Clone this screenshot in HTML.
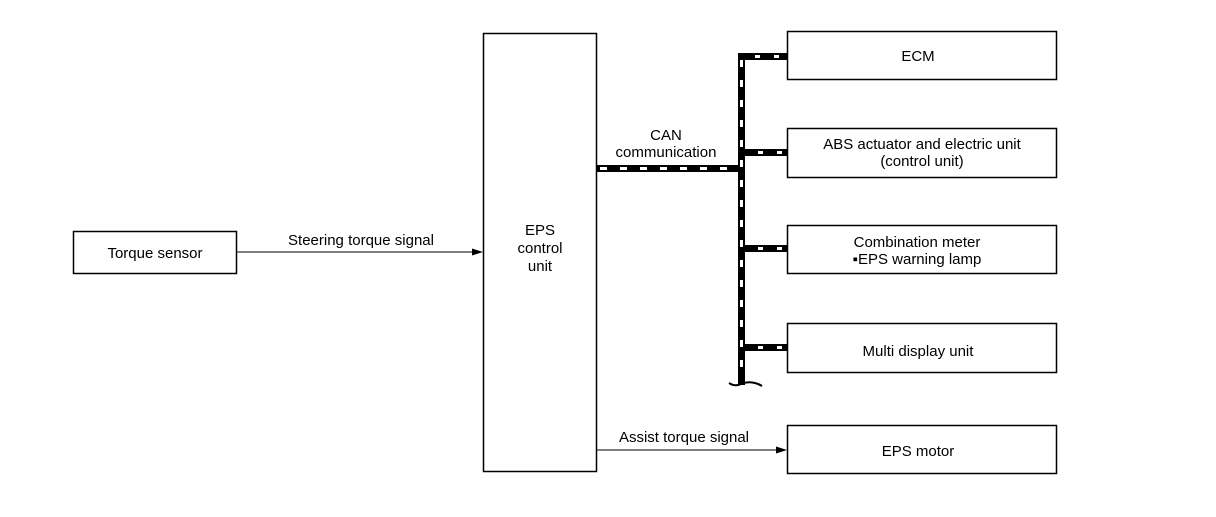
<!DOCTYPE html>
<html><head><meta charset="utf-8"><style>
html,body{margin:0;padding:0;background:#fff;}
svg text{font-family:"Liberation Sans",sans-serif;font-size:15px;fill:#000;}
</style></head><body>
<svg width="1216" height="512" viewBox="0 0 1216 512" xmlns="http://www.w3.org/2000/svg">
<g fill="none" stroke="#000" stroke-width="1.5">
<rect x="73.5" y="231.5" width="163" height="42"/>
<rect x="483.5" y="33.5" width="113" height="438"/>
<rect x="787.5" y="31.5" width="269" height="48"/>
<rect x="787.5" y="128.5" width="269" height="49"/>
<rect x="787.5" y="225.5" width="269" height="48"/>
<rect x="787.5" y="323.5" width="269" height="49"/>
<rect x="787.5" y="425.5" width="269" height="48"/>
</g>
<!-- arrows -->
<line x1="237" y1="252" x2="474" y2="252" stroke="#000" stroke-width="1"/>
<polygon points="483,252 472,248.5 472,255.5" fill="#000"/>
<line x1="597" y1="450" x2="778" y2="450" stroke="#000" stroke-width="1"/>
<polygon points="787,450 776,446.5 776,453.5" fill="#000"/>
<!-- CAN bus -->
<g stroke="#000" stroke-width="7">
<line x1="741.5" y1="53" x2="741.5" y2="385"/>
<line x1="597" y1="168.5" x2="742" y2="168.5"/>
<line x1="738" y1="56.5" x2="787" y2="56.5"/>
<line x1="738" y1="152.5" x2="787" y2="152.5"/>
<line x1="738" y1="248.5" x2="787" y2="248.5"/>
<line x1="738" y1="347.5" x2="787" y2="347.5"/>
</g>
<g stroke="#fff" stroke-width="3">
<line x1="741.5" y1="60" x2="741.5" y2="380" stroke-dasharray="7,13"/>
<line x1="600" y1="168.5" x2="738" y2="168.5" stroke-dasharray="7,13"/>
<line x1="755" y1="56.5" x2="787" y2="56.5" stroke-dasharray="5,14"/>
<line x1="758" y1="152.5" x2="787" y2="152.5" stroke-dasharray="5,14"/>
<line x1="758" y1="248.5" x2="787" y2="248.5" stroke-dasharray="5,14"/>
<line x1="758" y1="347.5" x2="787" y2="347.5" stroke-dasharray="5,14"/>
</g>
<path d="M729,383 Q735,387 741,384 Q748,381 755,383 Q759,384 762,386" fill="none" stroke="#000" stroke-width="2"/>
<!-- text -->
<text x="155" y="258" text-anchor="middle">Torque sensor</text>
<text x="361" y="245" text-anchor="middle">Steering torque signal</text>
<text x="540" y="235" text-anchor="middle">EPS</text>
<text x="540" y="253" text-anchor="middle">control</text>
<text x="540" y="271" text-anchor="middle">unit</text>
<text x="666" y="140" text-anchor="middle">CAN</text>
<text x="666" y="157" text-anchor="middle">communication</text>
<text x="918" y="61" text-anchor="middle">ECM</text>
<text x="922" y="149" text-anchor="middle">ABS actuator and electric unit</text>
<text x="922" y="166" text-anchor="middle">(control unit)</text>
<text x="917" y="247" text-anchor="middle">Combination meter</text>
<text x="917" y="264" text-anchor="middle">▪EPS warning lamp</text>
<text x="918" y="356" text-anchor="middle">Multi display unit</text>
<text x="684" y="442" text-anchor="middle">Assist torque signal</text>
<text x="918" y="456" text-anchor="middle">EPS motor</text>
</svg>
</body></html>
